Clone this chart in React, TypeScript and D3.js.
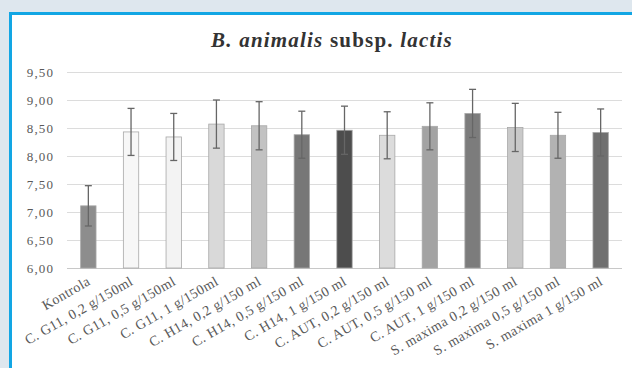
import { useEffect, useRef } from "react";
import * as d3 from "d3";

const categories = [
  "Kontrola",
  "C. G11, 0,2 g/150ml",
  "C. G11, 0,5 g/150ml",
  "C. G11, 1 g/150ml",
  "C. H14, 0,2 g/150 ml",
  "C. H14, 0,5 g/150 ml",
  "C. H14, 1 g/150 ml",
  "C. AUT, 0,2 g/150 ml",
  "C. AUT, 0,5 g/150 ml",
  "C. AUT, 1 g/150 ml",
  "S. maxima 0,2 g/150 ml",
  "S. maxima 0,5 g/150 ml",
  "S. maxima 1 g/150 ml",
];
const means = [7.11, 8.43, 8.34, 8.57, 8.54, 8.38, 8.46, 8.37, 8.53, 8.76, 8.51, 8.37, 8.42];
const errors = [0.36, 0.42, 0.42, 0.43, 0.43, 0.42, 0.43, 0.42, 0.42, 0.43, 0.43, 0.41, 0.42];
const fills = [
  "#8d8d8d", "#f7f7f7", "#f3f3f3", "#d9d9d9", "#c2c2c2", "#777777", "#4d4d4d",
  "#dcdcdc", "#a3a3a3", "#7c7c7c", "#c9c9c9", "#b2b2b2", "#707070",
];
const yTicks = [6, 6.5, 7, 7.5, 8, 8.5, 9, 9.5];

const App = () => {
  const ref = useRef<SVGSVGElement | null>(null);

  useEffect(() => {
    const width = 632;
    const height = 368;
    const svg = d3.select(ref.current);
    svg.selectAll("*").remove();

    // background and framed panel
    svg.append("rect").attr("width", width).attr("height", height).attr("fill", "#dee7ee");
    svg
      .append("rect")
      .attr("x", 10.5)
      .attr("y", 13.5)
      .attr("width", width + 20)
      .attr("height", height + 20)
      .attr("fill", "#ffffff")
      .attr("stroke", "#12a6e4")
      .attr("stroke-width", 3);

    const x = d3.scaleBand().domain(categories).range([67, 622]).paddingInner(0.64).paddingOuter(0.32);
    const y = d3.scaleLinear().domain([6, 9.5]).range([268, 72]);

    // title
    const title = svg
      .append("text")
      .attr("x", 332)
      .attr("y", 47)
      .attr("text-anchor", "middle")
      .style("font-family", "'Liberation Serif', 'Times New Roman', serif")
      .style("font-size", "21px")
      .style("font-weight", "bold")
      .style("letter-spacing", "1.2px")
      .attr("fill", "#333");
    title.append("tspan").style("font-style", "italic").text("B. animalis");
    title.append("tspan").text(" subsp. ");
    title.append("tspan").style("font-style", "italic").text("lactis");

    // grid + y labels
    const grid = svg.append("g");
    grid
      .selectAll("line")
      .data(yTicks)
      .enter()
      .append("line")
      .attr("x1", 67)
      .attr("x2", 622)
      .attr("y1", (d) => Math.round(y(d)) + 0.5)
      .attr("y2", (d) => Math.round(y(d)) + 0.5)
      .attr("stroke", (d) => (d === 6 ? "#c8c8c8" : "#dcdcdc"))
      .attr("stroke-width", 1);
    grid
      .selectAll("text")
      .data(yTicks)
      .enter()
      .append("text")
      .attr("x", 54)
      .attr("y", (d) => y(d) + 4.5)
      .attr("text-anchor", "end")
      .style("font-family", "'Liberation Serif', serif")
      .style("font-size", "13px")
      .style("letter-spacing", "1.1px")
      .attr("fill", "#595959")
      .text((d) => d.toFixed(2).replace(".", ","));

    // bars
    svg
      .append("g")
      .selectAll("rect")
      .data(categories)
      .enter()
      .append("rect")
      .attr("x", (d) => x(d)!)
      .attr("y", (d, i) => y(means[i]))
      .attr("width", x.bandwidth())
      .attr("height", (d, i) => y(6) - y(means[i]))
      .attr("fill", (d, i) => fills[i])
      .attr("stroke", "#a8a8a8")
      .attr("stroke-width", 0.8);

    // error bars
    const eb = svg.append("g").attr("stroke", "#666").attr("stroke-width", 1.3);
    categories.forEach((c, i) => {
      const cx = x(c)! + x.bandwidth() / 2;
      const top = y(means[i] + errors[i]);
      const bot = y(means[i] - errors[i]);
      eb.append("line").attr("x1", cx).attr("x2", cx).attr("y1", top).attr("y2", bot);
      eb.append("line").attr("x1", cx - 3.5).attr("x2", cx + 3.5).attr("y1", top).attr("y2", top);
      eb.append("line").attr("x1", cx - 3.5).attr("x2", cx + 3.5).attr("y1", bot).attr("y2", bot);
    });

    // x labels
    svg
      .append("g")
      .selectAll("text")
      .data(categories)
      .enter()
      .append("text")
      .attr("transform", (d) => `translate(${x(d)! + x.bandwidth() / 2 + 3},${284}) rotate(-30)`)
      .attr("text-anchor", "end")
      .style("font-family", "'Liberation Serif', serif")
      .style("font-size", "14px")
      .style("letter-spacing", "0.4px")
      .attr("fill", "#595959")
      .text((d) => d);

    return () => {
      d3.select(ref.current).selectAll("*").remove();
    };
  }, []);

  return (
    <svg
      ref={ref}
      width={632}
      height={368}
      style={{ position: "absolute", left: 0, top: 0, display: "block" }}
    ></svg>
  );
};

export default App;
